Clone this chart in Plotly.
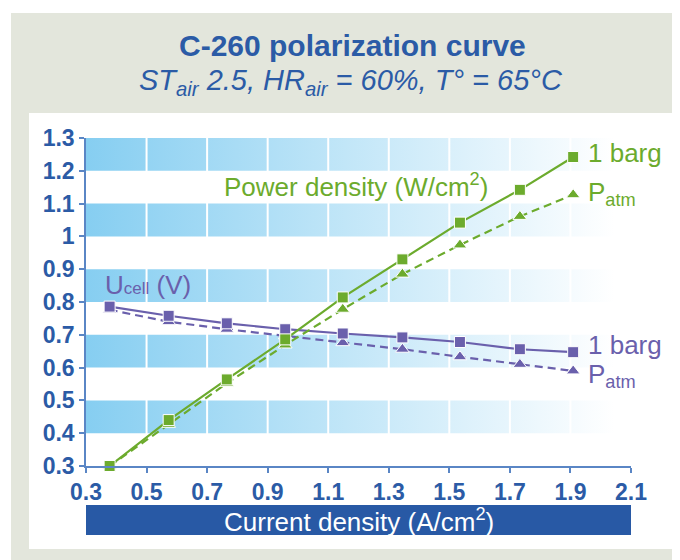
import plotly.graph_objects as go

# ---------------- data ----------------
current_density = [0.378, 0.573, 0.765, 0.958, 1.148, 1.345, 1.535, 1.733, 1.909]
power_1barg = [0.300, 0.440, 0.564, 0.686, 0.814, 0.930, 1.042, 1.142, 1.242]
power_patm = [0.300, 0.427, 0.552, 0.669, 0.778, 0.885, 0.974, 1.061, 1.127]
ucell_1barg = [0.786, 0.758, 0.735, 0.717, 0.704, 0.692, 0.678, 0.656, 0.647]
ucell_patm = [0.776, 0.740, 0.717, 0.697, 0.676, 0.656, 0.633, 0.610, 0.590]

x_ticks = [0.3, 0.5, 0.7, 0.9, 1.1, 1.3, 1.5, 1.7, 1.9, 2.1]
x_tick_labels = ["0.3", "0.5", "0.7", "0.9", "1.1", "1.3", "1.5", "1.7", "1.9", "2.1"]
y_ticks = [0.3, 0.4, 0.5, 0.6, 0.7, 0.8, 0.9, 1.0, 1.1, 1.2, 1.3]
y_tick_labels = ["0.3", "0.4", "0.5", "0.6", "0.7", "0.8", "0.9", "1", "1.1", "1.2", "1.3"]

# ---------------- style ----------------
OFF = 8  # browser body margin
W, H = 680 - OFF, 560 - OFF
L, R, T, B = 86 - OFF, 631 - OFF, 138 - OFF, 466 - OFF  # plot area in figure pixels
FONT = "Liberation Sans, Arial, Helvetica, sans-serif"
BLUE = "#2B5BA6"
AXIS = "#5A86C5"
GREEN = "#6CAB2D"
PURPLE = "#6A60AC"
GREY = "#E3E6DC"
BAND_LEFT = "#86CEF1"


def xp(px):  # page pixel -> paper
    return (px - OFF - L) / (R - L)


def yp(py):
    return (B - (py - OFF)) / (B - T)


xmin, xmax = x_ticks[0], x_ticks[-1]
fig = go.Figure()

# gradient bands (0.4-0.5, 0.6-0.7, ...)
for i in range(1, len(y_ticks) - 1, 2):
    y0, y1 = y_ticks[i], y_ticks[i + 1]
    fig.add_trace(go.Scatter(
        x=[xmin, xmax, xmax, xmin, xmin], y=[y0, y0, y1, y1, y0],
        mode="lines", line=dict(width=0), fill="toself",
        fillgradient=dict(type="horizontal",
                          colorscale=[[0, BAND_LEFT], [0.97, "#FFFFFF"], [1, "#FFFFFF"]]),
        hoverinfo="skip", showlegend=False))

# white vertical separators
vx, vy = [], []
for xv in x_ticks[1:-1]:
    vx += [xv, xv, None]
    vy += [y_ticks[0], y_ticks[-1], None]
fig.add_trace(go.Scatter(x=vx, y=vy, mode="lines", line=dict(color="white", width=2),
                         hoverinfo="skip", showlegend=False))


def series(y, color, dash, symbol, size):
    fig.add_trace(go.Scatter(
        x=current_density, y=y, mode="lines+markers",
        line=dict(color=color, width=2.2, dash=dash),
        marker=dict(symbol=symbol, size=size, color=color, line=dict(color="white", width=1)),
        cliponaxis=False, showlegend=False))


series(ucell_patm, PURPLE, "8px,5px", "triangle-up", 12)
series(ucell_1barg, PURPLE, "solid", "square", 11)
series(power_patm, GREEN, "8px,5px", "triangle-up", 12)
series(power_1barg, GREEN, "solid", "square", 11)

shapes = [
    dict(type="rect", xref="paper", yref="paper", x0=xp(11), x1=xp(700), y0=yp(13), y1=yp(580),
         fillcolor=GREY, line=dict(width=0), layer="below"),
    dict(type="rect", xref="paper", yref="paper", x0=xp(29), x1=xp(675), y0=yp(113), y1=yp(549),
         fillcolor="white", line=dict(width=0), layer="below"),
    dict(type="rect", xref="paper", yref="paper", x0=0, x1=1, y0=yp(505), y1=yp(535),
         fillcolor="#2859A5", line=dict(width=0), layer="below"),
]

annotations = [
    dict(text="<b>C-260 polarization curve</b>", x=xp(352), y=yp(45), xref="paper", yref="paper",
         showarrow=False, font=dict(family=FONT, size=30, color=BLUE), xanchor="center", yanchor="middle"),
    dict(text="<i>ST<sub>air</sub> 2.5, HR<sub>air</sub> = 60%, T° = 65°C</i>", x=xp(351), y=yp(82),
         xref="paper", yref="paper", showarrow=False,
         font=dict(family=FONT, size=29, color=BLUE), xanchor="center", yanchor="middle"),
    dict(text="Current density (A/cm<sup>2</sup>)", x=0.5, y=yp(520), xref="paper", yref="paper",
         showarrow=False, font=dict(family=FONT, size=26, color="white"), xanchor="center", yanchor="middle"),
    dict(text="Power density (W/cm<sup>2</sup>)", x=0.75, y=1.155, xref="x", yref="y", showarrow=False,
         font=dict(family=FONT, size=26, color=GREEN), xanchor="left", yanchor="middle"),
    dict(text='U<span style="font-size:17px">cell</span> (V)', x=0.356, y=0.853, xref="x", yref="y",
         showarrow=False, font=dict(family=FONT, size=26, color=PURPLE), xanchor="left", yanchor="middle"),
    dict(text="1 barg", x=1.95, y=1.254, xref="x", yref="y", showarrow=False,
         font=dict(family=FONT, size=26, color=GREEN), xanchor="left", yanchor="middle"),
    dict(text="P<sub>atm</sub>", x=1.95, y=1.13, xref="x", yref="y", showarrow=False,
         font=dict(family=FONT, size=26, color=GREEN), xanchor="left", yanchor="middle"),
    dict(text="1 barg", x=1.95, y=0.669, xref="x", yref="y", showarrow=False,
         font=dict(family=FONT, size=26, color=PURPLE), xanchor="left", yanchor="middle"),
    dict(text="P<sub>atm</sub>", x=1.95, y=0.577, xref="x", yref="y", showarrow=False,
         font=dict(family=FONT, size=26, color=PURPLE), xanchor="left", yanchor="middle"),
]

fig.update_layout(
    width=W, height=H,
    margin=dict(l=L, r=W - R, t=T, b=H - B, pad=0),
    paper_bgcolor="white", plot_bgcolor="rgba(0,0,0,0)",
    shapes=shapes, annotations=annotations, showlegend=False,
    xaxis=dict(range=[xmin, xmax], tickvals=x_ticks, ticktext=x_tick_labels,
               showgrid=False, zeroline=False, showline=True, linecolor=AXIS, linewidth=1.5,
               ticks="outside", ticklen=5, tickcolor=AXIS, tickwidth=1.5,
               tickfont=dict(family=FONT, size=23, color=BLUE, weight="bold"), fixedrange=True),
    yaxis=dict(range=[y_ticks[0], y_ticks[-1]], tickvals=y_ticks, ticktext=y_tick_labels,
               showgrid=False, zeroline=False, showline=True, linecolor=AXIS, linewidth=1.5,
               ticks="outside", ticklen=5, tickcolor=AXIS, tickwidth=1.5,
               tickfont=dict(family=FONT, size=23, color=BLUE, weight="bold"), fixedrange=True),
)

fig.write_html("out.html")
